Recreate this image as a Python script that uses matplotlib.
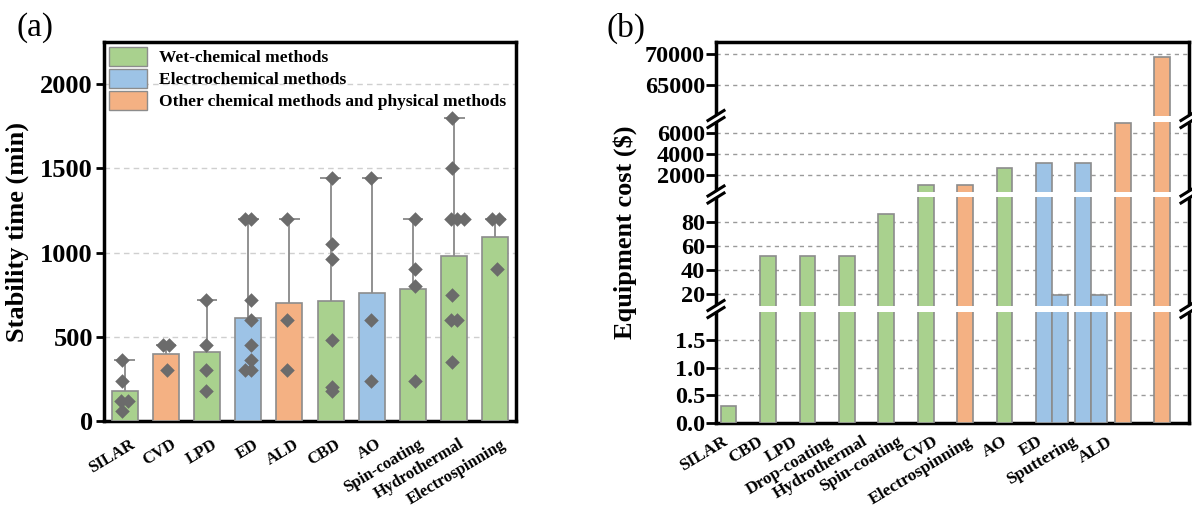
import numpy as np
import matplotlib
matplotlib.use('Agg')
import matplotlib.pyplot as plt
from matplotlib.patches import Patch, Polygon
from matplotlib.lines import Line2D
from matplotlib.ticker import FormatStrFormatter
from matplotlib.transforms import ScaledTranslation

plt.rcParams['font.family'] = ['Liberation Serif', 'DejaVu Serif']
plt.rcParams['font.weight'] = 'bold'
plt.rcParams['axes.labelweight'] = 'bold'

# colours per method group
GREEN, BLUE, ORANGE = '#a9d18e', '#9dc3e6', '#f4b183'
EDGE = '#8c8c8c'
PT = '#6b6b6b'
colors = {'wet': GREEN, 'ec': BLUE, 'other': ORANGE}

# ---- data (a): stability time ----
methods_a = ['SILAR', 'CVD', 'LPD', 'ED', 'ALD', 'CBD', 'AO',
             'Spin-coating', 'Hydrothermal', 'Electrospinning']
groups_a = ['wet', 'other', 'wet', 'ec', 'other', 'wet', 'ec', 'wet', 'wet', 'wet']
stab_mean = [178, 400, 410, 610, 700, 715, 760, 783, 980, 1095]
stab_max = [360, 450, 720, 1200, 1200, 1440, 1440, 1200, 1800, 1200]
stab_points = [
    [60, 120, 120, 240, 360],
    [300, 450, 450],
    [180, 300, 450, 720],
    [300, 300, 360, 450, 600, 720, 1200, 1200],
    [300, 600, 1200],
    [180, 200, 480, 960, 1050, 1440],
    [240, 600, 1440],
    [240, 800, 900, 1200],
    [350, 600, 600, 750, 1200, 1200, 1200, 1500, 1800],
    [900, 1200, 1200],
]

# ---- data (b): equipment cost ----
methods_b = ['SILAR', 'CBD', 'LPD', 'Drop-coating', 'Hydrothermal', 'Spin-coating',
             'CVD', 'Electrospinning', 'AO', 'ED', 'Sputtering', 'ALD']
groups_b = ['wet', 'wet', 'wet', 'wet', 'wet', 'wet',
            'other', 'wet', 'ec', 'ec', 'other', 'other']
cost = [0.3, 52, 52, 52, 87, 1000, 1000, 2650, 3150, 3150, 6900, 69500]
cost_low_methods = ['AO', 'ED']
cost_low = [19, 19]

W, H = 1192, 508
fig = plt.figure(figsize=(W / 100, H / 100), dpi=100)


def px_axes(x0, x1, y0, y1):
    # pixel box (y measured from top) -> axes
    return fig.add_axes([x0 / W, 1 - y1 / H, (x1 - x0) / W, (y1 - y0) / H])


def shift_labels(a, dx, dy):
    for lab in a.get_xticklabels():
        lab.set_transform(lab.get_transform() +
                          ScaledTranslation(dx / 100, -dy / 100, fig.dpi_scale_trans))


# ================= panel (a) =================
ax = px_axes(104, 516, 42, 421)
xa = np.arange(len(methods_a))
ax.bar(xa, stab_mean, width=0.63, color=[colors[g] for g in groups_a],
       edgecolor=EDGE, linewidth=1.2, zorder=3)
ax.vlines(xa, stab_mean, stab_max, color='#888888', lw=1.3, zorder=2)
ax.hlines(stab_max, xa - 0.25, xa + 0.25, color='#888888', lw=1.3, zorder=2)
offs = [-0.1, 0.05, -0.05, 0.1]
for i, pts in enumerate(stab_points):
    seen = {}
    for v in pts:
        k = seen.get(v, 0)
        seen[v] = k + 1
        dx = -0.08 + 0.16 * k if pts.count(v) > 1 else offs[i % 4] * 0.6
        ax.scatter(i + dx, v, marker='D', s=55, color=PT, zorder=4, linewidths=0)

ax.set_xlim(-0.5, 9.5)
ax.set_ylim(0, 2250)
ax.set_yticks([0, 500, 1000, 1500, 2000])
ax.yaxis.grid(True, ls=(0, (4, 3)), color='#cfcfcf', lw=1)
ax.set_axisbelow(True)
ax.set_xticks(xa)
ax.set_xticklabels(methods_a, rotation=31, ha='right', fontsize=12)
ax.tick_params(axis='x', length=0, pad=6)
ax.tick_params(axis='y', length=6, width=2, labelsize=19, direction='out', pad=2)
shift_labels(ax, 13, 7)
for s in ax.spines.values():
    s.set_linewidth(2.5)
ax.set_ylabel('Stability time (min)', fontsize=19, labelpad=8)

handles = [Patch(facecolor=GREEN, edgecolor=EDGE, label='Wet-chemical methods'),
           Patch(facecolor=BLUE, edgecolor=EDGE, label='Electrochemical methods'),
           Patch(facecolor=ORANGE, edgecolor=EDGE,
                 label='Other chemical methods and physical methods')]
ax.legend(handles=handles, loc='upper left', frameon=False, fontsize=12.5,
          handlelength=2.2, handleheight=1.26, labelspacing=0.17,
          handletextpad=0.65, borderaxespad=0.1, borderpad=0.2)

fig.text(17 / W, 1 - 28 / H, '(a)', fontsize=24, fontweight='normal', va='center')
fig.text(607 / W, 1 - 28 / H, '(b)', fontsize=24, fontweight='normal', va='center')

# ================= panel (b) =================
segs = [((42, 116), (60000, 72000), [65000, 70000], '%d'),
        ((122, 192), (350, 7000), [2000, 4000, 6000], '%d'),
        ((197, 306), (10, 101), [20, 40, 60, 80], '%d'),
        ((312, 423), (0, 2.0), [0, 0.5, 1.0, 1.5], '%.1f')]
xb = np.arange(len(methods_b))
bx0, bx1 = 716, 1189
axes_b = []
for j, ((y0, y1), lim, ticks, fmt) in enumerate(segs):
    a = px_axes(bx0, bx1, y0, y1)
    a.bar(xb, cost, width=0.4, color=[colors[g] for g in groups_b],
          edgecolor=EDGE, linewidth=1.2, zorder=3)
    lx = [methods_b.index(m) + 0.4 for m in cost_low_methods]
    a.bar(lx, cost_low, width=0.4, color=BLUE, edgecolor=EDGE, linewidth=1.2, zorder=3)
    a.set_xlim(-0.32, 11.68)
    a.set_ylim(*lim)
    a.set_yticks(ticks)
    a.yaxis.set_major_formatter(FormatStrFormatter(fmt))
    a.yaxis.grid(True, ls=(0, (3, 3)), color='#9a9a9a', lw=1)
    a.set_axisbelow(True)
    a.tick_params(axis='y', length=7, width=2, labelsize=17.5, pad=1)
    for s in a.spines.values():
        s.set_linewidth(2.5)
    if j > 0:
        a.spines['top'].set_visible(False)
    if j < len(segs) - 1:
        a.spines['bottom'].set_visible(False)
        a.tick_params(axis='x', bottom=False, labelbottom=False)
    axes_b.append(a)

ab = axes_b[-1]
ab.set_xticks(xb * 0.888 + 0.02)
ab.set_xticklabels(methods_b, rotation=31, ha='right', fontsize=12.5)
ab.tick_params(axis='x', length=0, pad=4)
shift_labels(ab, 1, 5)
fig.text(625 / W, 1 - 232 / H, 'Equipment cost ($)', rotation=90, fontsize=19,
         ha='center', va='center')


# break marks on both vertical spines
def brk(x, y):
    pts = []
    for dy in (-3.5, 3.5):
        xs = [x - 8, x + 8]
        ys = [y + dy + 5, y + dy - 5]
        fig.add_artist(Line2D([v / W for v in xs], [1 - v / H for v in ys],
                              color='black', lw=2.2))
        pts.append(list(zip(xs, ys)))
    poly = [(x - 8, pts[0][0][1] + 1.2), (x + 8, pts[0][1][1] + 1.2),
            (x + 8, pts[1][1][1] - 1.2), (x - 8, pts[1][0][1] - 1.2)]
    fig.add_artist(Polygon([(p[0] / W, 1 - p[1] / H) for p in poly],
                           closed=True, facecolor='white', edgecolor='none',
                           transform=fig.transFigure))


for yb in (119, 194.5, 309):
    brk(bx0, yb)
    brk(bx1, yb)

fig.savefig('out.png', dpi=100)
